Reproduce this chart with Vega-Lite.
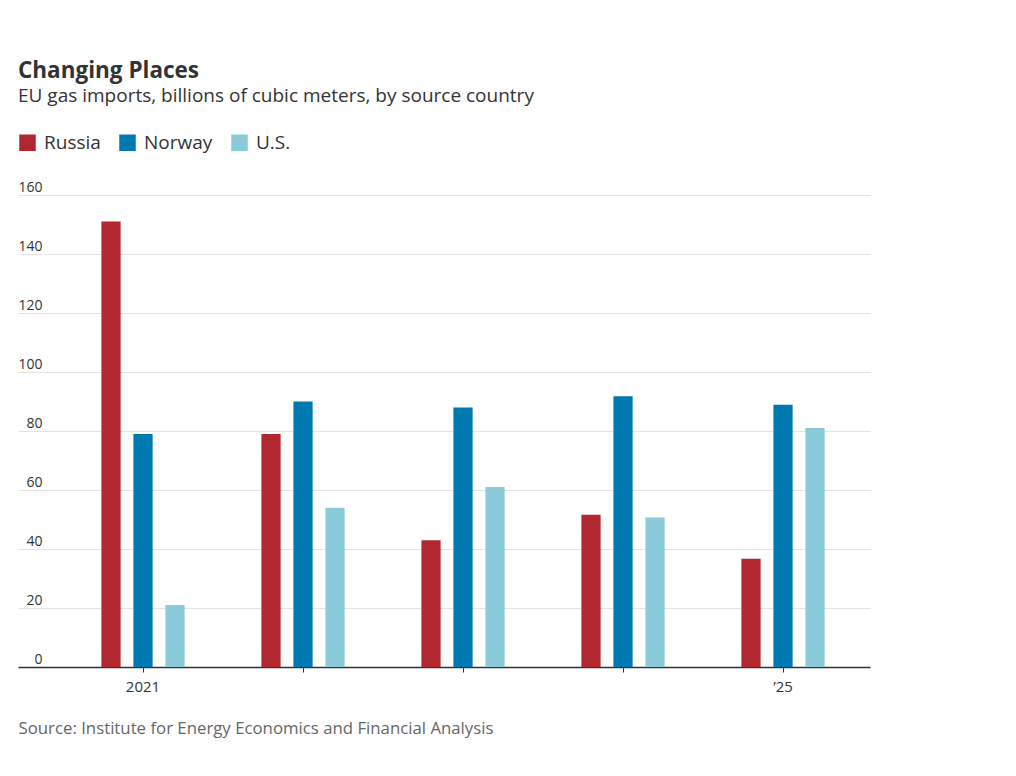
{
  "$schema": "https://vega.github.io/schema/vega-lite/v6.json",
  "width": 852,
  "height": 472,
  "autosize": {"type": "none"},
  "padding": {"left": 18, "top": 195, "right": 146, "bottom": 109},
  "background": "white",
  "title": {
    "text": "Changing Places",
    "subtitle": "EU gas imports, billions of cubic meters, by source country",
    "anchor": "start",
    "frame": "group",
    "font": "Open Sans",
    "fontSize": 22.5,
    "fontWeight": "bold",
    "color": "#333333",
    "subtitleFont": "Open Sans",
    "subtitleFontSize": 19,
    "subtitleFontWeight": 400,
    "subtitleColor": "#333333",
    "subtitlePadding": 5,
    "offset": 27
  },
  "config": {"view": {"stroke": null}},
  "data": {
    "values": [
      {"year": 2021, "country": "Russia", "value": 151},
      {"year": 2021, "country": "Norway", "value": 79},
      {"year": 2021, "country": "U.S.", "value": 21},
      {"year": 2022, "country": "Russia", "value": 79},
      {"year": 2022, "country": "Norway", "value": 90},
      {"year": 2022, "country": "U.S.", "value": 54},
      {"year": 2023, "country": "Russia", "value": 43},
      {"year": 2023, "country": "Norway", "value": 88},
      {"year": 2023, "country": "U.S.", "value": 61},
      {"year": 2024, "country": "Russia", "value": 51.6},
      {"year": 2024, "country": "Norway", "value": 91.8},
      {"year": 2024, "country": "U.S.", "value": 50.7},
      {"year": 2025, "country": "Russia", "value": 36.7},
      {"year": 2025, "country": "Norway", "value": 88.9},
      {"year": 2025, "country": "U.S.", "value": 81}
    ]
  },
  "mark": {"type": "bar"},
  "encoding": {
    "x": {
      "field": "year",
      "type": "ordinal",
      "scale": {"paddingInner": 0.4, "paddingOuter": 0.3625, "align": 0.664},
      "axis": {
        "title": "Source: Institute for Energy Economics and Financial Analysis",
        "titleAnchor": "start",
        "titleAlign": "left",
        "titleX": 0,
        "titleY": 66,
        "titleBaseline": "alphabetic",
        "titleFont": "Open Sans",
        "titleFontSize": 16.8,
        "titleFontWeight": 400,
        "titleColor": "#666666",
        "labelExpr": "datum.label == '2021' ? '2021' : (datum.label == '2025' ? '’25' : '')",
        "labelAngle": 0,
        "labelFont": "Open Sans",
        "labelFontSize": 15,
        "labelFontWeight": 400,
        "labelColor": "#333333",
        "labelPadding": 7,
        "domainColor": "#333333",
        "domainWidth": 1.5,
        "tickColor": "#333333",
        "tickSize": 5,
        "grid": false
      }
    },
    "xOffset": {
      "field": "country",
      "type": "nominal",
      "sort": ["Russia", "Norway", "U.S."],
      "scale": {"paddingInner": 0.4, "paddingOuter": 0.2}
    },
    "y": {
      "field": "value",
      "type": "quantitative",
      "scale": {"domain": [0, 160]},
      "axis": {
        "title": null,
        "values": [0, 20, 40, 60, 80, 100, 120, 140, 160],
        "grid": true,
        "gridColor": "#e3e3e3",
        "domain": false,
        "ticks": false,
        "labelAlign": "right",
        "labelPadding": -24,
        "labelBaseline": "alphabetic",
        "labelOffset": -4,
        "labelFont": "Open Sans",
        "labelFontSize": 14,
        "labelFontWeight": 400,
        "labelColor": "#333333"
      }
    },
    "color": {
      "field": "country",
      "type": "nominal",
      "sort": ["Russia", "Norway", "U.S."],
      "scale": {"domain": ["Russia", "Norway", "U.S."], "range": ["#b0272f", "#0079b0", "#8bcad8"]},
      "legend": {
        "orient": "none",
        "legendX": 0,
        "legendY": -62,
        "direction": "horizontal",
        "title": null,
        "symbolType": "square",
        "symbolSize": 272,
        "symbolStrokeWidth": 0,
        "symbolOpacity": 1,
        "labelFont": "Open Sans",
        "labelFontSize": 19,
        "labelFontWeight": 400,
        "labelColor": "#333333",
        "labelOffset": 7,
        "columnPadding": 17
      }
    }
  }
}
